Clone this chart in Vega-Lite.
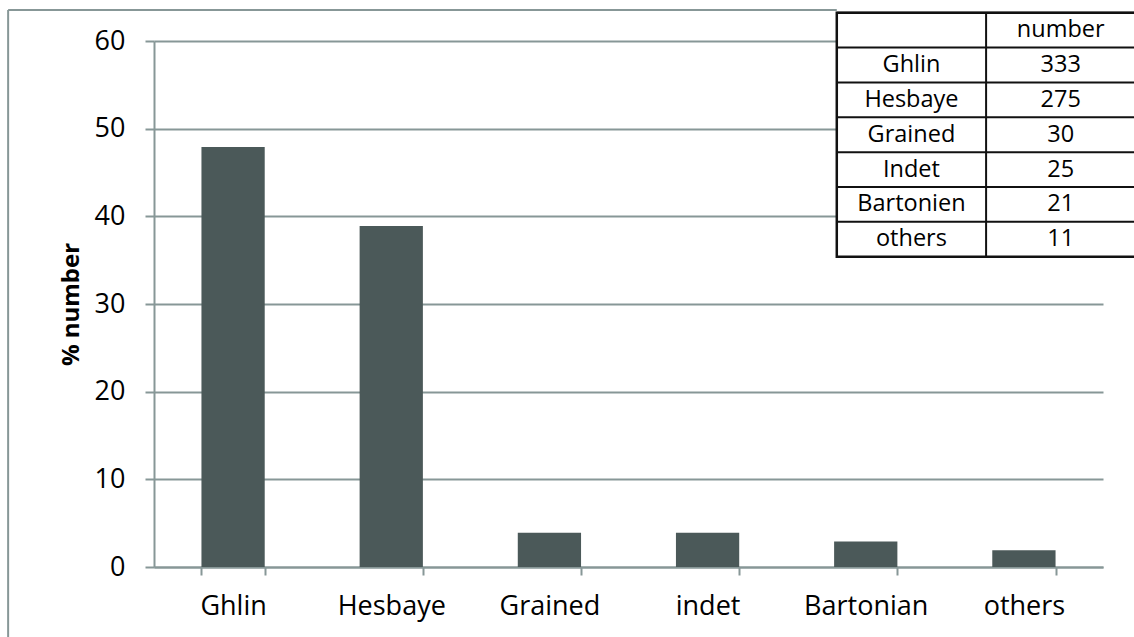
{
  "$schema": "https://vega.github.io/schema/vega-lite/v6.json",
  "width": 949,
  "height": 526,
  "autosize": {"type": "none"},
  "padding": {"left": 154, "top": 41, "right": 31, "bottom": 70},
  "background": "white",
  "config": {"view": {"stroke": null}, "font": "Open Sans"},
  "datasets": {
    "bars": [
      {"site": "Ghlin", "pct": 47.9},
      {"site": "Hesbaye", "pct": 38.9},
      {"site": "Grained", "pct": 3.9},
      {"site": "indet", "pct": 3.9},
      {"site": "Bartonian", "pct": 2.9},
      {"site": "others", "pct": 1.9}
    ],
    "table": [
      {"row": 0, "name": "", "number": "number"},
      {"row": 1, "name": "Ghlin", "number": "333"},
      {"row": 2, "name": "Hesbaye", "number": "275"},
      {"row": 3, "name": "Grained", "number": "30"},
      {"row": 4, "name": "Indet", "number": "25"},
      {"row": 5, "name": "Bartonien", "number": "21"},
      {"row": 6, "name": "others", "number": "11"}
    ]
  },
  "layer": [
    {
      "data": {"name": "bars"},
      "mark": {"type": "bar", "color": "#4b5959"},
      "encoding": {
        "x": {
          "field": "site", "type": "nominal", "sort": null,
          "scale": {"paddingInner": 0.6, "paddingOuter": 0.3},
          "axis": {
            "title": null, "labelAngle": 0, "tickBand": "extent", "tickSize": 8,
            "domainColor": "#879797", "tickColor": "#879797", "domainWidth": 2, "tickWidth": 2,
            "labelFontSize": 27, "labelPadding": 18, "labelColor": "black", "grid": false
          }
        },
        "y": {
          "field": "pct", "type": "quantitative",
          "scale": {"domain": [0, 60], "nice": false},
          "axis": {
            "values": [0, 10, 20, 30, 40, 50, 60],
            "grid": true, "gridColor": "#879797", "gridWidth": 2,
            "tickSize": 9, "tickColor": "#879797", "tickWidth": 2,
            "domainColor": "#879797", "domainWidth": 2,
            "labelPadding": 20, "labelFontSize": 27, "labelColor": "black",
            "title": "% number", "titleFontSize": 24, "titleFontWeight": "bold",
            "titleColor": "black", "titlePadding": 11
          }
        }
      }
    },
    {
      "layer": [
        {
          "data": {"values": [{}]},
          "mark": {"type": "rule", "color": "#879797", "strokeWidth": 2},
          "encoding": {
            "x": {"datum": -5.55, "type": "quantitative", "scale": {"domain": [-4.573, 1.783], "nice": false, "zero": false}, "axis": null},
            "x2": {"datum": 0},
            "y": {"datum": -0.077, "type": "quantitative", "scale": {"domain": [0.812, 15.901], "reverse": true, "nice": false, "zero": false}, "axis": null}
          }
        },
        {
          "data": {"values": [{}]},
          "mark": {"type": "rule", "color": "#879797", "strokeWidth": 2},
          "encoding": {
            "x": {"datum": -5.55, "type": "quantitative", "scale": {"domain": [-4.573, 1.783], "nice": false, "zero": false}, "axis": null},
            "y": {"datum": -0.077, "type": "quantitative", "scale": {"domain": [0.812, 15.901], "reverse": true, "nice": false, "zero": false}, "axis": null},
            "y2": {"datum": 18}
          }
        },
        {
          "data": {"values": [{}]},
          "mark": {"type": "rect", "fill": "white", "stroke": "#111111", "strokeWidth": 2.5},
          "encoding": {
            "x": {"datum": 0, "type": "quantitative", "scale": {"domain": [-4.573, 1.783], "nice": false, "zero": false}, "axis": null},
            "x2": {"datum": 2},
            "y": {"datum": 0, "type": "quantitative", "scale": {"domain": [0.812, 15.901], "reverse": true, "nice": false, "zero": false}, "axis": null},
            "y2": {"datum": 7}
          }
        },
        {
          "data": {"name": "table"},
          "mark": {"type": "rule", "color": "#111111", "strokeWidth": 2},
          "encoding": {
            "x": {"datum": 0, "type": "quantitative", "scale": {"domain": [-4.573, 1.783], "nice": false, "zero": false}, "axis": null},
            "x2": {"datum": 2},
            "y": {"field": "row", "type": "quantitative", "scale": {"domain": [0.812, 15.901], "reverse": true, "nice": false, "zero": false}, "axis": null}
          }
        },
        {
          "data": {"values": [{}]},
          "mark": {"type": "rule", "color": "#111111", "strokeWidth": 2},
          "encoding": {
            "x": {"datum": 1, "type": "quantitative", "scale": {"domain": [-4.573, 1.783], "nice": false, "zero": false}, "axis": null},
            "y": {"datum": 0, "type": "quantitative", "scale": {"domain": [0.812, 15.901], "reverse": true, "nice": false, "zero": false}, "axis": null},
            "y2": {"datum": 7}
          }
        },
        {
          "data": {"name": "table"},
          "mark": {"type": "text", "fontSize": 23.5, "color": "black", "baseline": "middle", "align": "center"},
          "encoding": {
            "x": {"datum": 0.5, "type": "quantitative", "scale": {"domain": [-4.573, 1.783], "nice": false, "zero": false}, "axis": null},
            "y": {"field": "row", "type": "quantitative", "scale": {"domain": [0.812, 15.901], "reverse": true, "nice": false, "zero": false}, "axis": null},
            "yOffset": {"value": 17.4},
            "text": {"field": "name"}
          }
        },
        {
          "data": {"name": "table"},
          "mark": {"type": "text", "fontSize": 23.5, "color": "black", "baseline": "middle", "align": "center"},
          "encoding": {
            "x": {"datum": 1.5, "type": "quantitative", "scale": {"domain": [-4.573, 1.783], "nice": false, "zero": false}, "axis": null},
            "y": {"field": "row", "type": "quantitative", "scale": {"domain": [0.812, 15.901], "reverse": true, "nice": false, "zero": false}, "axis": null},
            "yOffset": {"value": 17.4},
            "text": {"field": "number"}
          }
        }
      ]
    }
  ],
  "resolve": {"scale": {"x": "independent", "y": "independent"}}
}
